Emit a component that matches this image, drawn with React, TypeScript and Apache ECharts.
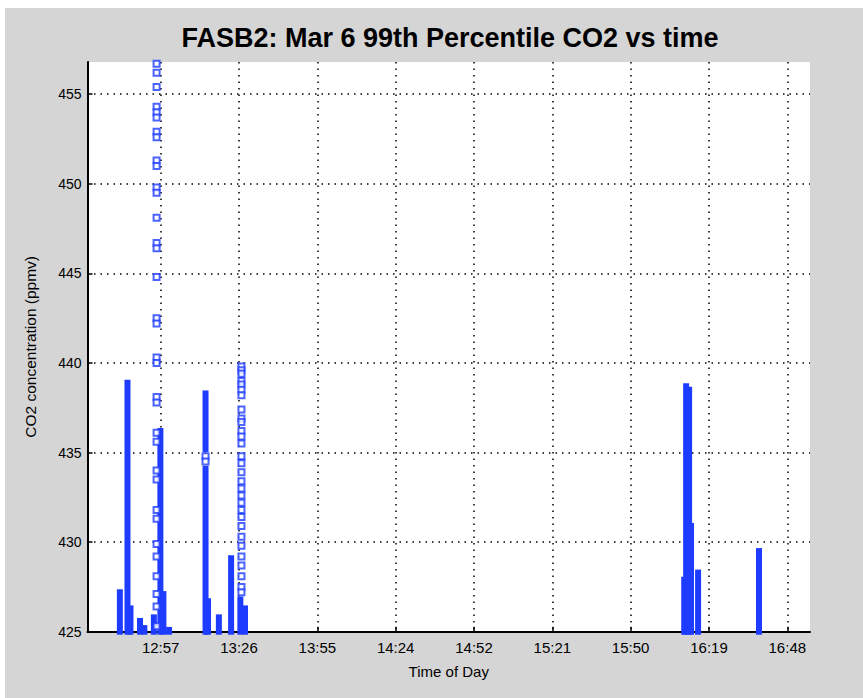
import React, { useEffect, useRef } from "react";
import * as echarts from "echarts";

// Time of day in minutes since midnight
const tickMinutes = [777.6, 806.4, 835.2, 864.0, 892.8, 921.6, 950.4, 979.2, 1008.0];
const tickLabels = ["12:57", "13:26", "13:55", "14:24", "14:52", "15:21", "15:50", "16:19", "16:48"];
const yTicks = [425, 430, 435, 440, 445, 450, 455];

// dense runs of points (time, lowest value, highest value)
const runTimes = [762.6, 765.4, 766.5, 770.0, 771.6, 775.1, 777.5, 778.6, 780.7, 794.1, 794.1, 795.0, 799.0, 803.5, 806.9, 808.6, 970.1, 970.8, 971.9, 972.6, 975.2, 997.6];
const runLow = [425, 425, 425, 425, 425, 425, 425, 425, 425, 425, 435.2, 425, 425, 425, 425, 425, 425, 425, 425, 425, 425, 425];
const runHigh = [427.2, 438.9, 426.3, 425.6, 425.2, 425.8, 436.2, 427.1, 425.1, 434.1, 438.3, 426.7, 425.8, 429.1, 426.8, 426.3, 427.9, 438.7, 438.5, 430.9, 428.3, 429.5];

// isolated points
const sparseA_time = 776.1;
const sparseA_vals = [456.7, 456.2, 455.4, 454.3, 454.0, 453.7, 452.9, 452.6, 451.3, 451.0, 449.8, 449.5, 448.1, 446.7, 446.4, 444.8, 442.5, 442.2, 440.3, 440.0, 438.1, 437.8, 436.1, 435.6, 434.0, 433.5, 431.8, 431.3, 429.9, 429.2, 428.1, 427.1, 426.4, 425.3];
const sparseB_time = 807.3;
const sparseB_vals = [439.8, 439.6, 439.4, 439.0, 438.8, 438.5, 438.2, 437.4, 436.9, 436.7, 436.2, 435.9, 435.5, 434.8, 434.4, 433.9, 433.4, 433.0, 432.6, 432.2, 431.8, 431.4, 430.9, 430.3, 429.8, 429.2, 428.7, 428.1, 427.5, 427.2];
const sparseC_time = 794.1;
const sparseC_vals = [434.8, 434.5];

const BLUE = "#1e3cff";
const FONT = "'Liberation Sans', Arial, sans-serif";

export default function App() {
  const ref = useRef<HTMLDivElement>(null);
  useEffect(() => {
    if (!ref.current) return;
    const chart = echarts.init(ref.current, undefined, { renderer: "svg" });
    const runData = runTimes.map((t, i) => [t, runLow[i], runHigh[i]]);
    const sparse = [
      ...sparseA_vals.map((v) => [sparseA_time, v]),
      ...sparseB_vals.map((v) => [sparseB_time, v]),
      ...sparseC_vals.map((v) => [sparseC_time, v]),
    ];
    const labelFor = (v: number) => {
      const i = tickMinutes.findIndex((m) => Math.abs(m - v) < 0.01);
      return i >= 0 ? tickLabels[i] : "";
    };
    chart.setOption({
      animation: false,
      backgroundColor: "#d5d5d5",
      title: {
        text: "FASB2: Mar 6 99th Percentile CO2 vs time",
        left: 445,
        top: 16,
        textAlign: "center",
        padding: 0,
        textStyle: { fontFamily: FONT, fontSize: 27, fontWeight: "bold", color: "#000" },
      },
      grid: {
        left: 82.5,
        right: 53,
        top: 54,
        bottom: 66.3,
        show: true,
        backgroundColor: "#fff",
        borderWidth: 0,
      },
      xAxis: {
        type: "value",
        min: 750.7,
        max: 1016.35,
        name: "Time of Day",
        nameLocation: "middle",
        nameGap: 32,
        nameTextStyle: { fontFamily: FONT, fontSize: 15, color: "#000" },
        axisLine: { show: true, onZero: false, lineStyle: { color: "#000", width: 2 } },
        axisTick: { show: true, inside: true, length: 5, customValues: tickMinutes, lineStyle: { color: "#000", width: 1.5 } },
        axisLabel: { customValues: tickMinutes, formatter: labelFor, color: "#000", fontFamily: FONT, fontSize: 15, margin: 8 },
        splitLine: { show: true, lineStyle: { color: "#000", type: [1.5, 5], width: 1.5 } },
      },
      yAxis: {
        type: "value",
        min: 425,
        max: 456.8,
        interval: 5,
        name: "CO2 concentration (ppmv)",
        nameLocation: "middle",
        nameGap: 49,
        nameTextStyle: { fontFamily: FONT, fontSize: 15.5, color: "#000" },
        axisLine: { show: true, lineStyle: { color: "#000", width: 2 } },
        axisTick: { show: true, inside: true, length: 5, customValues: yTicks, lineStyle: { color: "#000", width: 1.5 } },
        axisLabel: { customValues: yTicks, color: "#000", fontFamily: FONT, fontSize: 14, margin: 6 },
        splitLine: { show: true, lineStyle: { color: "#000", type: [1.5, 5], width: 1.5 } },
      },
      series: [
        {
          type: "custom",
          data: runData,
          encode: { x: 0, y: [1, 2] },
          z: 3,
          renderItem: (params: any, api: any) => {
            const p1 = api.coord([api.value(0), api.value(1)]);
            const p2 = api.coord([api.value(0), api.value(2)]);
            // extend each end by half a marker, as square markers do
            return {
              type: "line",
              shape: { x1: p1[0], y1: p1[1] + 3, x2: p2[0], y2: p2[1] - 3 },
              style: { stroke: BLUE, lineWidth: 6 },
              z2: 10,
            };
          },
          clip: false,
        },
        {
          type: "scatter",
          data: sparse,
          symbol: "rect",
          symbolSize: 6,
          z: 4,
          itemStyle: { color: "#fff", borderColor: BLUE, borderWidth: 2 },
        },
      ],
    });
    return () => chart.dispose();
  }, []);
  return <div ref={ref} style={{ position: "fixed", left: 5, top: 8, width: 858, height: 690 }} />;
}
